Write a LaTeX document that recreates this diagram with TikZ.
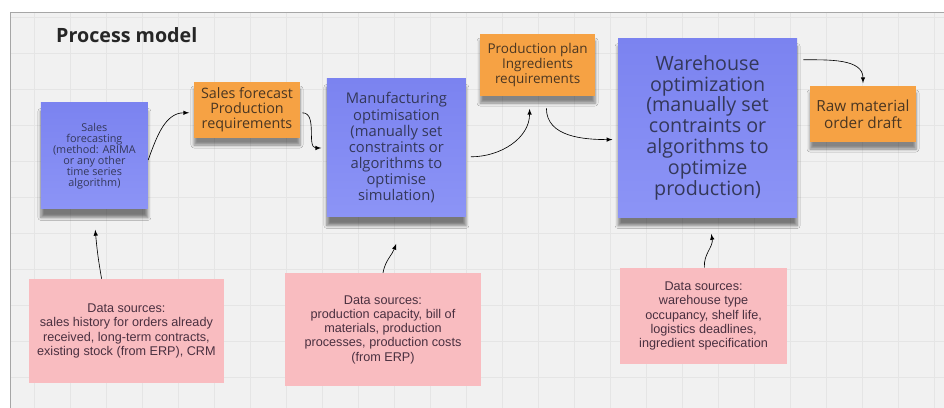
\documentclass[tikz,border=0pt]{standalone}
\usepackage{fontspec}
\usetikzlibrary{arrows, shadows.blur}
\setmainfont{Open Sans}
\newfontfamily\notefont{Open Sans}
\newfontfamily\srcfont{Liberation Sans}
\definecolor{board}{HTML}{F1F1F1}
\definecolor{gridline}{HTML}{E5E5E5}
\definecolor{stickyblue}{HTML}{7B83F0}
\definecolor{stickyblue2}{HTML}{8C94F6}
\definecolor{stickyorange}{HTML}{F6A244}
\definecolor{stickypink}{HTML}{F9BCC0}
\definecolor{bluetext}{HTML}{34385A}
\definecolor{orangetext}{HTML}{4A3622}
\definecolor{pinktext}{HTML}{4A3040}

\begin{document}
\begin{tikzpicture}[
    scale=1,
    task/.style={rectangle,top color=stickyblue,bottom color=stickyblue2,
      text=bluetext,align=center,inner sep=2pt,
      blur shadow={shadow xshift=0pt,shadow yshift=-6pt,shadow opacity=50,shadow blur steps=6}},
    result/.style={rectangle,fill=stickyorange,text=orangetext,align=center,inner sep=2pt,
      blur shadow={shadow xshift=0pt,shadow yshift=-5pt,shadow opacity=45,shadow blur steps=5}},
    source/.style={rectangle,fill=stickypink,text=pinktext,align=center,inner sep=2pt,
      font=\srcfont\fontsize{9}{10.1}\selectfont},
    proc/.style={draw,-latex,line width=0.45pt,shorten >=0.4pt}]
  % board with its grid
  \useasboundingbox (0,0) rectangle (23.6,10.2);
  \fill[white] (0,0) rectangle (23.6,10.2);
  \fill[board] (0.25,0) rectangle (23.6,9.9);
  \begin{scope}
    \clip (0.25,0) rectangle (23.6,9.9);
    \foreach \x in {0.85,1.75,...,23.5} \draw[gridline,line width=0.4pt] (\x,0) -- (\x,9.9);
    \foreach \y in {0.775,1.675,...,9.8} \draw[gridline,line width=0.4pt] (0.25,\y) -- (23.6,\y);
  \end{scope}
  \draw[gray!70,line width=0.6pt] (0.25,0) -- (0.25,9.9) -- (23.6,9.9);

  \node[font=\notefont\bfseries\fontsize{14}{16}\selectfont,text=black!85] (title) at (3.17,9.33) {Process model};

  % forecasting and planning steps
  \node[task,minimum width=2.675cm,minimum height=2.65cm,
    font=\notefont\fontsize{7.7}{7.9}\selectfont] (salesfc) at (2.36,6.3)
    {Sales\\forecasting\\(method: ARIMA\\or any other\\time series\\algorithm)};
  \node[result,minimum width=2.65cm,minimum height=1.4cm,
    font=\notefont\fontsize{10.2}{10.6}\selectfont] (salesreq) at (6.175,7.45)
    {Sales forecast\\Production\\requirements};
  \node[task,minimum width=3.475cm,minimum height=3.45cm,
    font=\notefont\fontsize{10.5}{11.5}\selectfont] (manuf) at (9.91,6.5)
    {Manufacturing\\optimisation\\(manually set\\constraints or\\algorithms to\\optimise\\simulation)};
  \node[result,minimum width=2.875cm,minimum height=1.55cm,
    font=\notefont\fontsize{9.6}{10.6}\selectfont] (plan) at (13.44,8.575)
    {Production plan\\Ingredients\\requirements};
  \node[task,minimum width=4.475cm,minimum height=4.475cm,
    font=\notefont\fontsize{14}{14.8}\selectfont] (wareh) at (17.69,7.01)
    {Warehouse\\optimization\\(manually set\\contraints or\\algorithms to\\optimize\\production)};
  \node[result,minimum width=2.65cm,minimum height=1.4cm,
    font=\notefont\fontsize{10.9}{11.8}\selectfont] (order) at (21.575,7.35)
    {Raw material\\order draft};

  % data sources
  \node[source,minimum width=4.875cm,minimum height=2.6cm] (salesdata) at (3.16,1.925)
    {Data sources:\\sales history for orders already\\received, long-term contracts,\\existing stock (from ERP), CRM};
  \node[source,minimum width=4.9cm,minimum height=2.825cm] (manufdata) at (9.575,1.96)
    {Data sources:\\production capacity, bill of\\materials, production\\processes, production costs\\(from ERP)};
  \node[source,minimum width=4.175cm,minimum height=2.4cm] (warehdata) at (17.59,2.3)
    {Data sources:\\warehouse type\\occupancy, shelf life,\\logistics deadlines,\\ingredient specification};

  % flow between steps
  \draw[proc] ([yshift=-0.1cm]salesfc.east) to[out=70,in=180] ([xshift=-0.1cm,yshift=-0.07cm]salesreq.west);
  \draw[proc] ([xshift=0.05cm,yshift=-0.07cm]salesreq.east) to[out=0,in=180] ([xshift=-0.12cm]manuf.west);
  \draw[proc] ([xshift=0.12cm,yshift=-0.22cm]manuf.east) to[out=0,in=-90] ([xshift=-0.2cm,yshift=-0.3cm]plan.south);
  \draw[proc] ([xshift=0.22cm,yshift=-0.3cm]plan.south) to[out=-90,in=180] ([xshift=-0.12cm,yshift=-0.3cm]wareh.west);
  \draw[proc] ([xshift=0.15cm,yshift=-0.55cm]wareh.north east) to[out=0,in=90] ([yshift=0.05cm]order.north);

  % inputs from the data sources
  \draw[proc] ([xshift=-0.62cm]salesdata.north) to[out=100,in=-85] ([xshift=0.02cm,yshift=-0.5cm]salesfc.south);
  \draw[proc] (manufdata.north) to[out=80,in=-110] ([yshift=-0.65cm]manuf.south);
  \draw[proc] ([xshift=0.02cm]warehdata.north) to[out=95,in=-80] ([xshift=0.09cm,yshift=-0.4cm]wareh.south);
\end{tikzpicture}
\end{document}
